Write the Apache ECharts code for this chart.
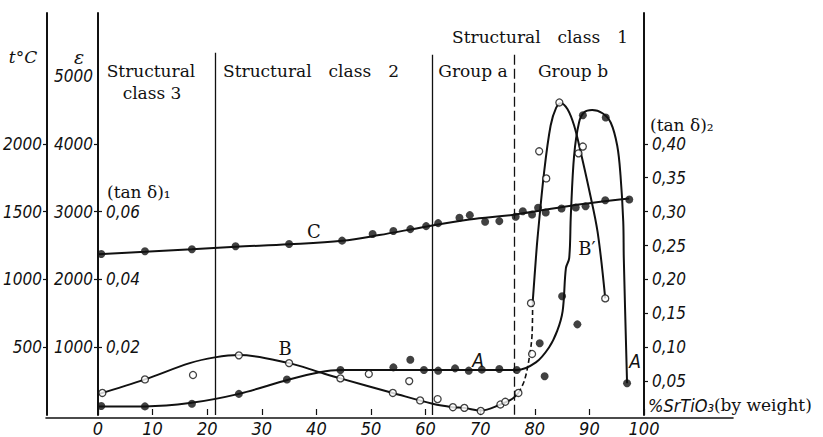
<!DOCTYPE html>
<html>
<head>
<meta charset="utf-8">
<script src="https://cdn.jsdelivr.net/npm/echarts@6/dist/echarts.min.js"></script>
<style>
  html, body { margin: 0; padding: 0; background: #fff; }
  #chart { width: 823px; height: 437px; }
</style>
</head>
<body>
<div id="chart"></div>
<script>
// x: % SrTiO3 by weight
const xTicks = [0, 10, 20, 30, 40, 50, 60, 70, 80, 90, 100]
const tTicks = [500, 1000, 1500, 2000]
const epsTicks = [1000, 2000, 3000, 4000]
const epsLabels = [1000, 2000, 3000, 4000, 5000]
const tan1Ticks = [0.02, 0.04, 0.06]
const tan2Ticks = [0.05, 0.10, 0.15, 0.20, 0.25, 0.30, 0.35, 0.40]

// boundaries between structural classes / groups (% SrTiO3)
const classBounds = [21.4, 61.2]
const groupBound = 76.2

// curve C, t°C
const cDots = [[0.6, 1188], [8.6, 1208], [17.2, 1223], [25.2, 1245], [35.0, 1261], [44.7, 1286],
  [50.3, 1335], [54.1, 1357], [57.2, 1371], [60.1, 1393], [62.3, 1415], [66.2, 1455], [68.1, 1474],
  [70.9, 1425], [73.5, 1430], [76.5, 1462], [77.8, 1503], [79.5, 1479], [80.6, 1528], [82.0, 1493],
  [84.9, 1523], [87.5, 1530], [89.3, 1540], [92.9, 1584], [97.3, 1589]]
const cCurve = [[0, 1186], [8.6, 1204], [17.2, 1223], [25.2, 1241], [35, 1259], [44.7, 1285],
  [51.5, 1327], [60, 1389], [68, 1442], [76.5, 1479], [86.3, 1542], [97.3, 1596]]

// curve A, epsilon
const aDots = [[0.6, 132], [8.6, 127], [17.2, 165], [25.8, 312], [34.6, 523], [44.4, 663], [54.1, 703],
  [57.2, 815], [59.7, 663], [62.3, 654], [65.4, 688], [67.9, 654], [70.3, 669], [73.5, 678], [76.7, 663],
  [80.9, 1059], [81.8, 571], [85.0, 1752], [87.8, 1337], [88.8, 4422], [93.0, 4388], [96.9, 468]]
const aCurve = [[0, 127], [8.6, 127], [16.8, 176], [25.8, 312], [35.0, 523], [40.6, 630], [44.4, 663],
  [55.2, 663], [76.7, 663], [80.2, 776], [82.6, 996], [84.1, 1240], [85.1, 1533], [85.7, 2167],
  [86.3, 2313], [86.6, 2947], [87.2, 3826], [88.1, 4315], [89.0, 4461], [90.5, 4499], [92.4, 4451],
  [93.9, 4315], [95.1, 3972], [95.7, 3533], [96.2, 2851], [96.3, 2313], [96.9, 469]]

// curve B, (tan d)1
const bDots = [[0.8, 0.0065], [8.6, 0.0105], [17.4, 0.0118], [25.8, 0.0176], [35.0, 0.0153],
  [44.4, 0.0108], [49.6, 0.0121], [54.0, 0.0065], [57.0, 0.0100], [59.0, 0.0043], [62.2, 0.0047],
  [65.0, 0.0023], [67.1, 0.0021], [70.1, 0.0012], [73.7, 0.0031], [74.6, 0.0039], [77.0, 0.0065],
  [79.5, 0.018]]
const bCurve = [[0, 0.0061], [8.6, 0.0105], [16.8, 0.0153], [21.4, 0.0170], [25.8, 0.0177], [35, 0.0153],
  [40.6, 0.0126], [44.4, 0.0108], [54, 0.0065], [61.3, 0.0033], [64.9, 0.0023], [67.1, 0.0021],
  [70.1, 0.0013], [73.7, 0.0031], [75.9, 0.0048], [77, 0.0065]]
const bDash = [[77, 0.0065], [78.1, 0.0102], [79.0, 0.017], [79.5, 0.0238], [79.6, 0.033]]

// curve B', (tan d)2
const b2Dots = [[79.3, 0.165], [80.8, 0.389], [82.1, 0.349], [84.5, 0.461], [88.0, 0.386], [88.8, 0.396], [92.9, 0.172]]
const b2Curve = [[79.6, 0.165], [80.2, 0.231], [80.5, 0.261], [81.7, 0.358], [82.9, 0.427], [83.9, 0.453],
  [84.8, 0.460], [86.0, 0.451], [87.2, 0.427], [88.4, 0.388], [89.9, 0.334], [91.5, 0.270], [92.9, 0.172]]

const EPS_MAX = 5930
const ink = '#111'
const serif = "'DejaVu Serif', 'Liberation Serif', serif"
const narrow = "'Liberation Sans Narrow', 'DejaVu Sans Condensed', 'Liberation Sans', sans-serif"

const tickFont = { color: ink, fontFamily: narrow, fontStyle: 'italic', fontSize: 17 }
const comma = v => v.toFixed(2).replace('.', ',')
const plain = v => String(v)

function yAxisBase (max, ticks, labels, extra) {
  return Object.assign({
    type: 'value',
    min: 0,
    max: max,
    splitLine: { show: false },
    axisLine: { show: true, onZero: false, lineStyle: { color: ink, width: 2 } },
    axisTick: { show: true, customValues: ticks, length: 4, lineStyle: { color: ink, width: 1.2 } },
    axisLabel: Object.assign({ customValues: labels, margin: 5, formatter: plain }, tickFont)
  }, extra || {})
}

const chart = echarts.init(document.getElementById('chart'), null, { renderer: 'svg' })

const curve = (name, data, yi, extra) => Object.assign({
  name: name, type: 'line', data: data, yAxisIndex: yi, smooth: 0.35,
  showSymbol: false, symbol: 'none', z: 3,
  lineStyle: { color: ink, width: 2 }
}, extra || {})
const filled = (data, yi) => ({
  type: 'scatter', data: data, yAxisIndex: yi, symbolSize: 8, z: 4,
  itemStyle: { color: ink }
})
const hollow = (data, yi) => ({
  type: 'scatter', data: data, yAxisIndex: yi, symbolSize: 7, z: 5,
  itemStyle: { color: '#fff', borderColor: ink, borderWidth: 1.3 }
})

const txt = (x, y, text, opts) => ({
  type: 'text', x: x, y: y, silent: true,
  style: Object.assign({ text: text, fill: ink, font: '17px ' + serif, align: 'center', verticalAlign: 'middle' }, opts || {})
})

chart.setOption({
  animation: false,
  backgroundColor: '#fff',
  grid: [
    { left: 98, right: 179, top: 13, bottom: 19 },
    { left: 46, right: 90, top: 13, bottom: 19 }
  ],
  xAxis: [
    {
      type: 'value', min: 0, max: 100, interval: 10,
      splitLine: { show: false },
      axisLine: { show: false },
      axisTick: { show: true, inside: true, length: 6, lineStyle: { color: ink, width: 1.2 } },
      axisLabel: Object.assign({ margin: 4 }, tickFont, { fontSize: 18 })
    },
    {
      gridIndex: 1, type: 'value', min: 0, max: 1,
      axisLine: { show: true, onZero: false, lineStyle: { color: ink, width: 1.6 } },
      axisTick: { show: false }, axisLabel: { show: false }, splitLine: { show: false }
    }
  ],
  yAxis: [
    yAxisBase(EPS_MAX / 2, tTicks, tTicks, { position: 'left', offset: 51 }),
    yAxisBase(EPS_MAX, epsTicks, epsLabels, { position: 'left' }),
    yAxisBase(EPS_MAX / 50000, tan1Ticks, tan1Ticks, { position: 'left' }),
    yAxisBase(EPS_MAX / 10000, tan2Ticks, tan2Ticks, { position: 'right' }),
    { gridIndex: 1, type: 'value', min: 0, max: 1, show: false }
  ],
  series: [
    curve('C', cCurve, 0),
    filled(cDots, 0),
    curve('A', aCurve, 1, {
      markLine: {
        silent: true, symbol: 'none', label: { show: false },
        lineStyle: { color: ink, width: 1.3, type: 'solid' },
        data: [
          [{ coord: [classBounds[0], 5344] }, { coord: [classBounds[0], 0] }],
          [{ coord: [classBounds[1], 5315] }, { coord: [classBounds[1], 0] }],
          [{ coord: [groupBound, 5315], lineStyle: { type: [10, 4] } }, { coord: [groupBound, 0] }]
        ]
      }
    }),
    filled(aDots, 1),
    curve('B', bCurve, 2),
    curve('B dashed', bDash, 2, { lineStyle: { color: ink, width: 1.6, type: [5, 3] } }),
    hollow(bDots, 2),
    curve("B'", b2Curve, 3),
    hollow(b2Dots, 3)
  ],
  graphic: [
    txt(23, 57, 't°C', { font: 'italic 17px ' + serif }),
    txt(79, 57, 'ε', { font: 'italic 19px ' + serif }),
    txt(151, 71, 'Structural'),
    txt(152, 93, 'class 3'),
    txt(311, 71, 'Structural\u2003class\u20032'),
    txt(540, 37, 'Structural\u2003class\u20031'),
    txt(473, 71, 'Group a'),
    txt(573, 71, 'Group b'),
    txt(107, 192, '(tan δ)₁', { align: 'left' }),
    txt(650, 125, '(tan δ)₂', { align: 'left' }),
    txt(314, 231, 'C', { font: '18px ' + serif }),
    txt(285, 348, 'B', { font: '18px ' + serif }),
    txt(587, 248, 'B′', { font: '18px ' + serif }),
    txt(478, 360, 'A', { font: 'italic 19px ' + narrow }),
    txt(635, 361, 'A', { font: 'italic 19px ' + narrow }),
    {
      type: 'text', x: 648, y: 405, silent: true,
      style: {
        text: '{a|%SrTiO₃}{b|(by weight)}', align: 'left', verticalAlign: 'middle',
        rich: {
          a: { fill: ink, font: 'italic 18px ' + narrow },
          b: { fill: ink, font: '17px ' + serif }
        }
      }
    }
  ]
})

chart.setOption({
  yAxis: [{}, {},
    { axisLine: { show: false }, axisTick: { inside: true }, axisLabel: { inside: true, margin: 8, formatter: comma } },
    { axisLabel: { formatter: comma, margin: 8 } }, {}]
})
</script>
</body>
</html>
